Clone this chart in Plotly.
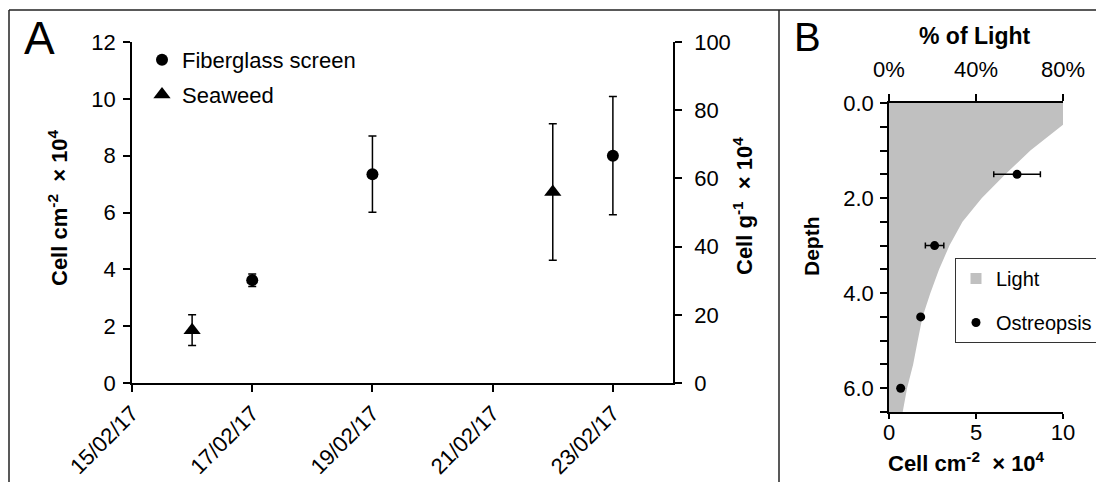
import plotly.graph_objects as go

W, H = 1096, 482
def px_x(x):
    return x / W
def px_y(y):
    return 1 - y / H

FONT = "Liberation Sans, Arial, sans-serif"

# ---------------- Panel A data ----------------
fiber_dates = ["2017-02-17", "2017-02-19", "2017-02-23"]
fiber_vals = [3.62, 7.35, 8.0]          # Cell cm-2 x 10^4 (left axis)
fiber_err = [0.22, 1.34, 2.08]

sea_dates = ["2017-02-16", "2017-02-22"]
sea_vals = [15.5, 56.0]                 # Cell g-1 x 10^4 (right axis)
sea_err = [4.5, 20.0]

# ---------------- Panel B data ----------------
light_depth = [0.0, 0.46, 1.0, 1.5, 2.0, 2.5, 3.0, 3.5, 4.0, 4.5, 5.0, 5.5, 6.0, 6.5]
light_pct = [80, 80, 65, 53.5, 42.7, 33.8, 27.8, 23, 19, 15.4, 13.2, 11.1, 8.3, 6.3]

ost_depth = [1.5, 3.0, 4.5, 6.0]
ost_cells = [7.36, 2.62, 1.82, 0.67]
ost_err = [1.34, 0.53, 0.12, 0.12]

pct_ticks = [0, 40, 80]
pct_labels = ["0%", "40%", "80%"]

fig = go.Figure()

# Panel A traces
fig.add_trace(go.Scatter(
    x=fiber_dates, y=fiber_vals, mode="markers", name="Fiberglass screen",
    marker=dict(symbol="circle", size=12, color="black"),
    error_y=dict(type="data", array=fiber_err, color="black", thickness=1.5, width=4),
    xaxis="x", yaxis="y", legend="legend", legendgroup="f"))
fig.add_trace(go.Scatter(
    x=sea_dates, y=sea_vals, mode="markers", name="Seaweed",
    marker=dict(symbol="triangle-up", size=15, color="black"),
    error_y=dict(type="data", array=sea_err, color="black", thickness=1.5, width=4),
    xaxis="x", yaxis="y2", legend="legend", legendgroup="s"))

# Panel B traces (light on base axis x3, cells on overlay x4 so points are on top)
fig.add_trace(go.Scatter(
    x=light_pct, y=light_depth, mode="lines", fill="tozerox",
    fillcolor="#c0c0c0", line=dict(width=0, color="#c0c0c0"),
    name="Light", showlegend=False, xaxis="x3", yaxis="y3"))
fig.add_trace(go.Scatter(
    x=[None], y=[None], mode="markers", name="Light",
    marker=dict(symbol="square", size=11, color="#c0c0c0"),
    xaxis="x3", yaxis="y3", legend="legend2", legendgroup="l"))
fig.add_trace(go.Scatter(
    x=ost_cells, y=ost_depth, mode="markers", name="Ostreopsis",
    marker=dict(symbol="circle", size=9, color="black"),
    error_x=dict(type="data", array=ost_err, color="black", thickness=1.5, width=3),
    xaxis="x4", yaxis="y3", legend="legend2", legendgroup="o"))

def ax(size=22, standoff=0, **kw):
    d = dict(showgrid=False, zeroline=False, showline=True, linecolor="black",
             linewidth=1.5, ticks="outside", ticklen=7, tickwidth=1.5,
             tickcolor="black", automargin=False, ticklabelstandoff=standoff,
             tickfont=dict(size=size, color="black", family=FONT))
    d.update(kw)
    return d

fig.update_layout(
    template="none",
    width=W, height=H, autosize=False,
    margin=dict(l=0, r=0, t=0, b=0, pad=0, autoexpand=False),
    paper_bgcolor="white", plot_bgcolor="rgba(0,0,0,0)",
    font=dict(family=FONT, color="black"),
    xaxis=ax(22, 0, domain=[px_x(132), px_x(673)], anchor="y", type="date",
             range=["2017-02-15", "2017-02-24"], tick0="2017-02-15",
             dtick=2 * 86400000, tickformat="%d/%m/%y", tickangle=-45),
    yaxis=ax(22, 3, domain=[px_y(383), px_y(42)], anchor="x", range=[0, 12], dtick=2),
    yaxis2=ax(22, 8, overlaying="y", side="right", anchor="x", range=[0, 100], dtick=20),
    xaxis3=ax(22, 8, domain=[px_x(889), px_x(1063)], anchor="y3", side="top",
              range=[0, 80], tickvals=pct_ticks, ticktext=pct_labels),
    xaxis4=ax(22, -5, overlaying="x3", side="bottom", anchor="y3", range=[0, 10],
              dtick=5, ticklen=5),
    yaxis3=ax(22, 2, domain=[px_y(412), px_y(103)], anchor="x3", range=[6.5, 0],
              tick0=0, dtick=2, tickformat=".1f",
              minor=dict(dtick=0.5, tick0=0, ticks="outside", ticklen=7,
                         tickwidth=1.5, tickcolor="black", showgrid=False)),
    legend=dict(x=px_x(142), y=px_y(39), xanchor="left", yanchor="top",
                bgcolor="rgba(0,0,0,0)", borderwidth=0, traceorder="grouped",
                tracegroupgap=3,
                font=dict(size=22, family=FONT, color="black"),
                itemsizing="trace"),
    legend2=dict(x=px_x(955), y=px_y(258), xanchor="left", yanchor="top",
                 bgcolor="white", bordercolor="#333333", borderwidth=1,
                 traceorder="grouped", tracegroupgap=15,
                 font=dict(size=20, family=FONT, color="black")),
)

ann = []
ann.append(dict(text="A", x=px_x(22), y=px_y(38.5), xanchor="left", yanchor="middle",
                showarrow=False, font=dict(size=46, family=FONT, color="black"),
                xref="paper", yref="paper"))
ann.append(dict(text="B", x=px_x(792), y=px_y(37.5), xanchor="left", yanchor="middle",
                showarrow=False, font=dict(size=40, family=FONT, color="black"),
                xref="paper", yref="paper"))
ann.append(dict(text="<b>Cell cm<sup>-2</sup>  × 10<sup>4</sup></b>", x=px_x(58), y=px_y(208),
                xanchor="center", yanchor="middle", textangle=-90, showarrow=False,
                font=dict(size=22, family=FONT, color="black"), xref="paper", yref="paper"))
ann.append(dict(text="<b>Cell g<sup>-1</sup>  × 10<sup>4</sup></b>", x=px_x(743), y=px_y(206),
                xanchor="center", yanchor="middle", textangle=-90, showarrow=False,
                font=dict(size=22, family=FONT, color="black"), xref="paper", yref="paper"))
ann.append(dict(text="<b>% of Light</b>", x=px_x(974), y=px_y(36),
                xanchor="center", yanchor="middle", showarrow=False,
                font=dict(size=23, family=FONT, color="black"), xref="paper", yref="paper"))
ann.append(dict(text="<b>Depth</b>", x=px_x(812), y=px_y(246),
                xanchor="center", yanchor="middle", textangle=-90, showarrow=False,
                font=dict(size=21, family=FONT, color="black"), xref="paper", yref="paper"))
ann.append(dict(text="<b>Cell cm<sup>-2</sup>  × 10<sup>4</sup></b>", x=px_x(966), y=px_y(462),
                xanchor="center", yanchor="middle", showarrow=False,
                font=dict(size=22, family=FONT, color="black"), xref="paper", yref="paper"))
fig.update_layout(annotations=ann)

line = dict(color="#222222", width=1.5)
fig.update_layout(shapes=[
    dict(type="line", xref="paper", yref="paper", x0=px_x(9), x1=1, y0=px_y(10), y1=px_y(10), line=line),
    dict(type="line", xref="paper", yref="paper", x0=px_x(9), x1=px_x(9), y0=0, y1=px_y(10), line=line),
    dict(type="line", xref="paper", yref="paper", x0=px_x(779), x1=px_x(779), y0=0, y1=px_y(10), line=line),
])

fig.write_html("out.html")
